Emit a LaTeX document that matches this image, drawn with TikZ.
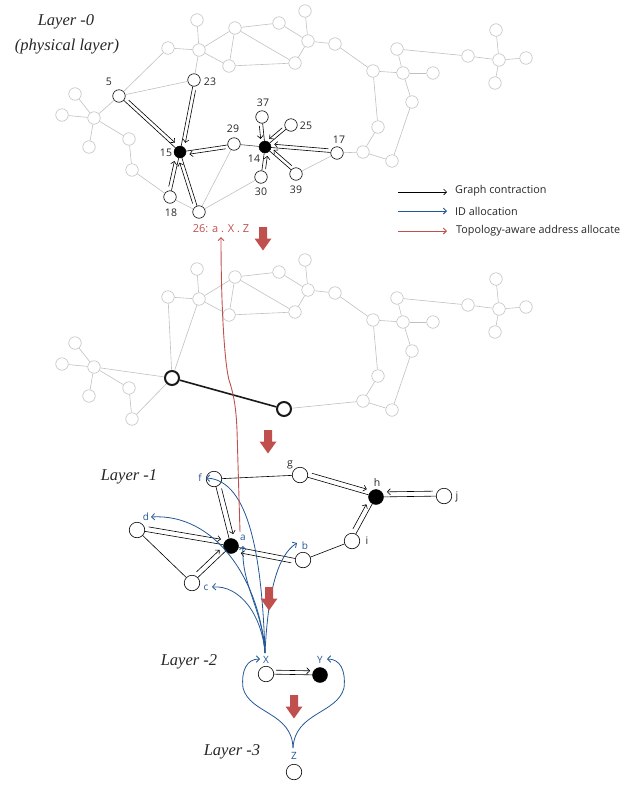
\documentclass[tikz,border=0pt]{standalone}
\usepackage{fontspec}
\setmainfont{Open Sans}
\newfontfamily\layerfont{Liberation Serif}
\usetikzlibrary{arrows.meta,calc}
\definecolor{eg}{RGB}{192,192,192}
\definecolor{ib}{RGB}{35,88,150}
\definecolor{rd}{RGB}{192,80,77}
\newcommand\bggraph[1]{%
  \foreach \n/\x/\y in {1/197/20, 2/168/48, 3/199/50, 4/235/28, 5/279/23, 6/305/11, 7/308/41, 8/335/44, 9/229/66, 10/295/63, 11/373/71, 12/397/49, 13/403/73, 14/433/73, 15/412/102, 16/378/127, 17/363/152, 18/392/161, 19/468/56, 20/499/60, 21/496/30, 22/526/58, 23/495/83, 24/75/94, 25/62/115, 26/94/118, 27/89/147, 28/129/139, 29/132/170}
    \node[gn] (#1n\n) at (\x,\y) {};
  \foreach \a/\b in {1/3, 2/3, 3/4, 3/9, 4/9, 4/5, 4/10, 9/10, 5/7, 6/7, 7/10, 7/8, 8/11, 11/13, 11/16, 12/13, 13/14, 13/15, 12/19, 19/20, 20/21, 20/22, 20/23, 15/18, 16/17, 17/18, 24/26, 25/26, 26/27, 26/28, 28/29}
    \draw[ge] (#1n\a) -- (#1n\b);
}
\newcommand\contr[5]{%
  \draw[carr, shorten <=#5, shorten >=#5] ($(#1)!#4!#3:(#2)$) -- ($(#2)!-#4!#3:(#1)$);}
\newcommand\bigdown[1]{%
  \fill[rd] ($(#1)+(-4,0)$) -- ++(8,0) -- ++(0,11.5) -- ++(4.5,0) -- ($(#1)+(0,23.5)$) -- ($(#1)+(-8.5,11.5)$) -- ++(4.5,0) -- cycle;}
\begin{document}
\begin{tikzpicture}[x=1pt,y=-1pt,
  gn/.style={circle,draw=eg,fill=white,line width=0.6pt,minimum size=12.5pt,inner sep=0pt},
  ge/.style={draw=eg,line width=0.6pt},
  wn/.style={circle,draw=black,fill=white,line width=0.6pt,minimum size=12.5pt,inner sep=0pt},
  bn/.style={circle,fill=black,draw=black,minimum size=12pt,inner sep=0pt},
  bign/.style={circle,draw=black!90,fill=white,line width=2pt,minimum size=14pt,inner sep=0pt},
  ln/.style={circle,draw=black,fill=white,line width=0.6pt,minimum size=15.5pt,inner sep=0pt},
  lbn/.style={circle,fill=black,draw=black,minimum size=15pt,inner sep=0pt},
  be/.style={draw=black,line width=0.6pt},
  carr/.style={draw=black,line width=0.6pt,-{Straight Barb[length=3pt,width=6pt]}},
  bl/.style={draw=ib,line width=0.8pt,-{Straight Barb[length=3.2pt,width=6.5pt]}},
  lbl/.style={inner sep=0pt,font=\fontsize{10.5}{11}\selectfont,text=black!85},
  blbl/.style={inner sep=0pt,text=ib,font=\fontsize{10}{11}\selectfont},
  layer/.style={inner sep=0pt,font=\layerfont\itshape\fontsize{16.5}{18}\selectfont,text=black!85},
  lgt/.style={anchor=west,inner sep=0pt,font=\fontsize{10.8}{12}\selectfont,text=black!85}]
\useasboundingbox (0,0) rectangle (641,785);

% ---------------- Layer 0 ----------------
\bggraph{t}
\node[wn] (v5) at (119,96) {};
\node[wn] (v23) at (194,80) {};
\node[bn] (v15) at (180,152) {};
\node[wn] (v18) at (170,197) {};
\node[wn] (v26) at (199,212) {};
\node[wn] (v29) at (234,144) {};
\node[bn] (v14) at (265,147) {};
\node[wn] (v37) at (262,117) {};
\node[wn] (v25) at (291,125) {};
\node[wn] (v17) at (337,153) {};
\node[wn] (v30) at (261,177) {};
\node[wn] (v39) at (296,174) {};
\foreach \a/\b in {tn2/v5, tn3/v23, v5/v23, tn26/v5, tn29/v18, v18/v26, v26/v29, v26/v30, v39/v17, v17/tn17}
  \draw[ge] (\a) -- (\b);
\draw[draw=black!70,line width=0.6pt] (v29) -- (v14);
\foreach \a/\b in {v5/v15, v23/v15, v18/v15, v26/v15, v29/v15, v37/v14, v25/v14, v17/v14, v39/v14, v30/v14}
  \draw[be] (\a) -- (\b);
\contr{v5}{v15}{90}{3.5pt}{10pt}
\contr{v23}{v15}{90}{3.5pt}{10pt}
\contr{v18}{v15}{90}{3.5pt}{10pt}
\contr{v26}{v15}{90}{3.5pt}{10pt}
\contr{v29}{v15}{90}{3.5pt}{9pt}
\contr{v37}{v14}{-90}{3.5pt}{8.5pt}
\contr{v25}{v14}{-90}{3.5pt}{8.5pt}
\contr{v17}{v14}{-90}{3.5pt}{9pt}
\contr{v39}{v14}{-90}{3.5pt}{8.5pt}
\contr{v30}{v14}{-90}{3.5pt}{8.5pt}
\node[lbl] (l5) at (109,82) {5};
\node[lbl] (l23) at (210,82) {23};
\node[lbl] (l15) at (166,153) {15};
\node[lbl] (l18) at (171,213) {18};
\node[lbl] (l29) at (233,129) {29};
\node[lbl] (l37) at (263,103) {37};
\node[lbl] (l25) at (306,126) {25};
\node[lbl] (l17) at (339,140) {17};
\node[lbl] (l14) at (254,159) {14};
\node[lbl] (l30) at (261,192) {30};
\node[lbl] (l39) at (296,190) {39};

\node[layer] (L0) at (66,22) {Layer -0};
\node[layer] (L0b) at (67,47) {(physical layer)};

% legend
\coordinate (lg1a) at (398,192); \coordinate (lg1b) at (447,192);
\coordinate (lg2a) at (398,211); \coordinate (lg2b) at (447,211);
\coordinate (lg3a) at (398,231); \coordinate (lg3b) at (447,231);
\draw[carr] (lg1a) -- (lg1b);
\draw[carr,draw=ib,line width=0.9pt] (lg2a) -- (lg2b);
\draw[carr,draw=rd,line width=0.9pt] (lg3a) -- (lg3b);
\node[lgt] (lt1) at (455,191) {Graph contraction};
\node[lgt] (lt2) at (455,211) {ID allocation};
\node[lgt] (lt3) at (456,231) {Topology-aware address allocate};

% ---------------- contracted graph ----------------
\begin{scope}[shift={(0,249)}]
\bggraph{m}
\end{scope}
\node[bign] (M1) at (172,378) {};
\node[bign] (M2) at (284,409) {};
\foreach \a/\b in {mn2/M1, mn3/M1, mn26/M1, mn29/M1, M2/mn17}
  \draw[ge] (\a) -- (\b);
\draw[draw=black!90,line width=1.6pt] (M1) -- (M2);

% ---------------- Layer -1 ----------------
\node[ln] (f) at (214,479) {};
\node[ln] (g) at (300,475) {};
\node[lbn] (h) at (376,497) {};
\node[ln] (j) at (444,496) {};
\node[ln] (i) at (352,541) {};
\node[ln] (b) at (303,560) {};
\node[lbn] (a) at (231,546) {};
\node[ln] (d) at (137,530) {};
\node[ln] (c) at (192,583) {};
\foreach \p/\q in {f/g, g/h, h/j, h/i, i/b, b/a, a/d, a/c, a/f, d/c}
  \draw[be] (\p) -- (\q);
\contr{f}{a}{90}{5pt}{11pt}
\contr{d}{a}{90}{5pt}{11pt}
\contr{c}{a}{90}{5pt}{11pt}
\contr{b}{a}{90}{5pt}{11pt}
\contr{g}{h}{90}{5pt}{11pt}
\contr{j}{h}{-90}{5pt}{11pt}
\contr{i}{h}{90}{5pt}{11pt}
\node[blbl] (lf) at (200,478) {f};
\node[blbl] (ld) at (146,517) {d};
\node[blbl] (lc) at (206,588) {c};
\node[blbl] (la) at (243,538) {a};
\node[blbl] (lb) at (305,546) {b};
\node[lbl] (lg) at (290,465) {g};
\node[lbl] (lh) at (377,483) {h};
\node[lbl] (lj) at (457,497) {j};
\node[lbl] (li) at (367,541) {i};
\node[layer] (L1) at (129,477) {Layer -1};

% ---------------- Layer -2 / -3 ----------------
\node[ln] (X) at (266,674) {};
\node[lbn] (Y) at (320,675) {};
\draw[be] (X) -- (Y);
\contr{X}{Y}{90}{4pt}{10pt}
\node[ln] (Z) at (294,772) {};
\node[blbl] (lX) at (266,660) {X};
\node[blbl] (lY) at (320,660) {Y};
\node[blbl] (lZ) at (294,756) {Z};
\node[layer] (L2) at (189,662) {Layer -2};
\node[layer] (L3) at (232,752) {Layer -3};

% ---------------- blue ID allocation curves ----------------
\coordinate (xs) at (265,653);
\coordinate (ftip) at (206,478);
\coordinate (dtip) at (151,517);
\coordinate (ctip) at (212,587);
\coordinate (atip) at (243,546);
\coordinate (btip) at (297,543);
\draw[bl] (xs) .. controls (262,560) and (250,480) .. (ftip);
\draw[bl] (xs) .. controls (260,580) and (215,513) .. (dtip);
\draw[bl] (xs) .. controls (262,615) and (240,585) .. (ctip);
\draw[bl] (xs) .. controls (263,610) and (241,585) .. (atip);
\draw[bl] (xs) .. controls (268,590) and (278,555) .. (btip);
\coordinate (zs) at (293,748);
\coordinate (xtip) at (260,659);
\coordinate (ytip) at (327,659);
\draw[bl] (zs) .. controls (292,712) and (250,714) .. (243,688) .. controls (241,670) and (247,659) .. (xtip);
\draw[bl] (zs) .. controls (295,712) and (337,714) .. (344,688) .. controls (346,670) and (340,659) .. (ytip);

% ---------------- red address path ----------------
\coordinate (rtail) at (240,532);
\coordinate (rtip) at (221,237);
\draw[draw=rd,line width=0.9pt,-{Straight Barb[length=3pt,width=6pt]}] (rtail) -- (237,430) .. controls (236,405) and (233,392) .. (229,380) .. controls (224,360) and (221,300) .. (rtip);
\node[inner sep=0pt,text=rd,font=\fontsize{11}{12}\selectfont] (rt) at (221,229) {26: a . X . Z};

% ---------------- big red arrows ----------------
\coordinate (ra1) at (263,227);
\coordinate (ra2) at (268,430);
\coordinate (ra3) at (269,587);
\coordinate (ra4) at (294,695);
\bigdown{ra1}
\bigdown{ra2}
\bigdown{ra3}
\bigdown{ra4}
\end{tikzpicture}
\end{document}
